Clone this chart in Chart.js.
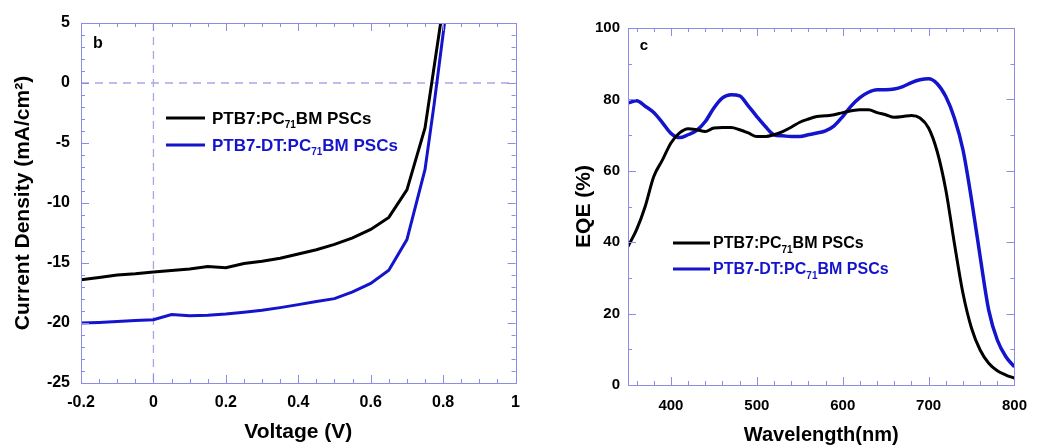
<!DOCTYPE html>
<html>
<head>
<meta charset="utf-8">
<script src="https://cdn.jsdelivr.net/npm/chart.js@4.4.1/dist/chart.umd.min.js"></script>
<style>
  body { margin: 0; background: #fff; }
  #wrap { position: relative; width: 1039px; height: 447px; }
  #jv { position: absolute; left: 0; top: 0; }
  #eqe { position: absolute; left: 530px; top: 0; }
</style>
</head>
<body>
<div id="wrap">
  <canvas id="jv" width="530" height="447"></canvas>
  <canvas id="eqe" width="509" height="447"></canvas>
</div>
<script>
// series names (the "71" is drawn as subscript)
const nameRef = 'PTB7:PC71BM PSCs'
const nameDT = 'PTB7-DT:PC71BM PSCs'

// panel b : J-V curves
const voltRef = [-0.2, -0.15, -0.1, -0.05, 0, 0.05, 0.1, 0.15, 0.2, 0.25, 0.3, 0.35, 0.4, 0.45, 0.5, 0.55, 0.6, 0.65, 0.7, 0.75, 0.8]
const jRef = [-16.4, -16.2, -16.0, -15.9, -15.75, -15.62, -15.5, -15.3, -15.4, -15.05, -14.86, -14.6, -14.25, -13.9, -13.45, -12.9, -12.2, -11.2, -8.9, -3.75, 6.4]
const voltDT = [-0.2, -0.15, -0.1, -0.05, 0, 0.05, 0.1, 0.15, 0.2, 0.25, 0.3, 0.35, 0.4, 0.45, 0.5, 0.55, 0.6, 0.65, 0.7, 0.75, 0.775, 0.8, 0.825]
const jDT = [-20.0, -19.95, -19.88, -19.8, -19.72, -19.3, -19.4, -19.35, -19.25, -19.1, -18.94, -18.72, -18.47, -18.2, -17.97, -17.4, -16.7, -15.6, -13.05, -7.2, -1.8, 4.1, 10]
const voltTicks = [-0.2, 0, 0.2, 0.4, 0.6, 0.8, 1]
const jTicks = [-25, -20, -15, -10, -5, 0, 5]

// panel c : EQE spectra
const wavelength = [350, 360, 370, 380, 390, 400, 410, 420, 430, 440, 450, 460, 470, 480, 490, 500, 510, 520, 530, 540, 550, 560, 570, 580, 590, 600, 610, 620, 630, 640, 650, 660, 670, 680, 690, 700, 710, 720, 730, 740, 750, 760, 770, 780, 790, 800]
const eqeRef = [38.8, 43.5, 50, 58.4, 63, 67.8, 70.6, 71.8, 71.5, 71, 72, 72.1, 72.1, 71.5, 70.6, 69.6, 69.6, 70.1, 71, 72.2, 73.6, 74.5, 75.2, 75.4, 75.7, 76.3, 76.8, 77.1, 77.1, 76.3, 75.7, 75, 75.2, 75.5, 74.8, 72, 65.4, 54.7, 39.7, 25.7, 15.9, 9.8, 6.1, 4, 2.8, 1.9]
const eqeDT = [79, 79.6, 78.1, 76.3, 73.5, 70.5, 69.3, 70.1, 71.3, 73.8, 77.6, 80.4, 81.3, 81, 78.2, 75.2, 72.4, 70.1, 69.8, 69.6, 69.6, 70.1, 70.6, 71.2, 72.6, 75.2, 78.2, 80.5, 82, 82.7, 82.7, 82.9, 83.6, 84.7, 85.5, 85.8, 84.4, 80.8, 74.8, 65.9, 51.9, 36, 21, 12.6, 7.9, 5.1]
const waveTicks = [400, 500, 600, 700, 800]
const eqeTicks = [0, 20, 40, 60, 80, 100]

const FONT = "'Liberation Sans', Arial, sans-serif"
const LAV = '#8c8ce6'
const BLUE = '#1414cc'

function pts(xs, ys) {
  return xs.map((x, i) => ({x: x, y: ys[i]}))
}

// frame, inward ticks, dashed zero lines, legend with subscript, panel letter
const framePlugin = {
  id: 'frame',
  beforeDatasetsDraw(chart, args, o) {
    if (!o.zeroLines) return
    const {ctx, chartArea: a, scales: {x, y}} = chart
    const x0 = x.getPixelForValue(0), y0 = y.getPixelForValue(0)
    ctx.save()
    ctx.strokeStyle = '#a6a6ea'
    ctx.lineWidth = 1.3
    ctx.setLineDash([8, 6])
    ctx.beginPath()
    ctx.moveTo(x0, a.top); ctx.lineTo(x0, a.bottom)
    ctx.moveTo(a.left, y0); ctx.lineTo(a.right, y0)
    ctx.stroke()
    ctx.restore()
  },
  afterDatasetsDraw(chart, args, o) {
    const {ctx, chartArea: a, scales: {x, y}} = chart
    ctx.save()
    ctx.strokeStyle = LAV
    ctx.lineWidth = 1
    ctx.beginPath()
    // x ticks top and bottom
    let start = Math.ceil(x.min / o.xMinor - 1e-6)
    for (let i = start; i * o.xMinor <= x.max + 1e-9; i++) {
      const v = i * o.xMinor
      const major = Math.abs(v / o.xMajor - Math.round(v / o.xMajor)) < 1e-6
      const len = major ? 8 : 4
      const px = Math.round(x.getPixelForValue(v)) + 0.5
      ctx.moveTo(px, a.bottom); ctx.lineTo(px, a.bottom - len)
      ctx.moveTo(px, a.top); ctx.lineTo(px, a.top + len)
    }
    // y ticks left and right
    start = Math.ceil(y.min / o.yMinor - 1e-6)
    for (let i = start; i * o.yMinor <= y.max + 1e-9; i++) {
      const v = i * o.yMinor
      const major = Math.abs(v / o.yMajor - Math.round(v / o.yMajor)) < 1e-6
      const len = major ? 8 : 4
      const py = Math.round(y.getPixelForValue(v)) + 0.5
      ctx.moveTo(a.left, py); ctx.lineTo(a.left + len, py)
      ctx.moveTo(a.right, py); ctx.lineTo(a.right - len, py)
    }
    ctx.stroke()
    ctx.strokeRect(Math.round(a.left) + 0.5, Math.round(a.top) + 0.5, Math.round(a.right - a.left), Math.round(a.bottom - a.top))
    ctx.restore()

    // panel letter
    ctx.save()
    ctx.fillStyle = '#000'
    ctx.font = 'bold ' + o.letterSize + 'px ' + FONT
    ctx.textAlign = 'center'
    ctx.textBaseline = 'middle'
    ctx.fillText(o.letter, o.letterX, o.letterY)
    ctx.restore()

    // legend
    const lg = o.legend
    chart.data.datasets.forEach((ds, i) => {
      const yy = lg.y + i * lg.rowH
      ctx.save()
      ctx.strokeStyle = ds.borderColor
      ctx.lineWidth = 3
      ctx.beginPath()
      ctx.moveTo(lg.x, yy); ctx.lineTo(lg.x + lg.lineLen, yy)
      ctx.stroke()
      const parts = ds.label.split('71')
      ctx.fillStyle = ds.borderColor
      ctx.textBaseline = 'middle'
      let tx = lg.x + lg.lineLen + lg.gap
      ctx.font = 'bold ' + lg.size + 'px ' + FONT
      ctx.fillText(parts[0], tx, yy + 1)
      tx += ctx.measureText(parts[0]).width
      ctx.font = 'bold ' + lg.subSize + 'px ' + FONT
      ctx.fillText('71', tx, yy + lg.subDrop)
      tx += ctx.measureText('71').width
      ctx.font = 'bold ' + lg.size + 'px ' + FONT
      ctx.fillText(parts[1], tx, yy + 1)
      ctx.restore()
    })
  }
}

function axis(min, max, tickList, fitSize, isX, tickFont, tickPad, title, titleSize, titlePad) {
  return {
    type: 'linear',
    min: min,
    max: max,
    afterBuildTicks: s => { s.ticks = tickList.map(v => ({value: v})) },
    afterFit: s => { if (isX) s.height = fitSize; else s.width = fitSize },
    grid: {display: false, drawTicks: false},
    border: {display: false},
    ticks: {
      color: '#000',
      padding: tickPad,
      autoSkip: false,
      maxRotation: 0,
      font: {family: FONT, size: tickFont, weight: 'bold'},
      callback: v => String(v)
    },
    title: {
      display: true,
      text: title,
      color: '#000',
      font: {family: FONT, size: titleSize, weight: 'bold'},
      padding: titlePad
    }
  }
}

new Chart(document.getElementById('jv'), {
  type: 'line',
  data: {
    datasets: [
      {label: nameRef, data: pts(voltRef, jRef), borderColor: '#000', borderWidth: 3, pointRadius: 0, tension: 0, clip: 0},
      {label: nameDT, data: pts(voltDT, jDT), borderColor: BLUE, borderWidth: 3, pointRadius: 0, tension: 0, clip: 0}
    ]
  },
  options: {
    responsive: false,
    animation: false,
    layout: {padding: {top: 23, right: 14, left: 0, bottom: 0}},
    plugins: {
      legend: {display: false},
      tooltip: {enabled: false},
      frame: {
        zeroLines: true, xMajor: 0.2, xMinor: 0.05, yMajor: 5, yMinor: 1,
        letter: 'b', letterX: 98, letterY: 44, letterSize: 16,
        legend: {x: 166, y: 118, rowH: 27, lineLen: 39, gap: 7, size: 17, subSize: 10, subDrop: 7}
      }
    },
    scales: {
      x: axis(-0.2, 1, voltTicks, 64, true, 16, 10, 'Voltage (V)', 21, {bottom: 2}),
      y: axis(-25, 5, jTicks, 81, false, 16, 11, 'Current Density (mA/cm²)', 21, {top: 11})
    }
  },
  plugins: [framePlugin]
})

new Chart(document.getElementById('eqe'), {
  type: 'line',
  data: {
    datasets: [
      {label: nameRef, data: pts(wavelength, eqeRef), borderColor: '#000', borderWidth: 3, pointRadius: 0, cubicInterpolationMode: 'monotone', clip: 0},
      {label: nameDT, data: pts(wavelength, eqeDT), borderColor: BLUE, borderWidth: 3.5, pointRadius: 0, cubicInterpolationMode: 'monotone', clip: 0}
    ]
  },
  options: {
    responsive: false,
    animation: false,
    layout: {padding: {top: 28, right: 13, left: 0, bottom: 0}},
    plugins: {
      legend: {display: false},
      tooltip: {enabled: false},
      frame: {
        zeroLines: false, xMajor: 100, xMinor: 20, yMajor: 20, yMinor: 10,
        letter: 'c', letterX: 114, letterY: 46, letterSize: 15,
        legend: {x: 143, y: 243, rowH: 26, lineLen: 37, gap: 3, size: 16, subSize: 10, subDrop: 7}
      }
    },
    scales: {
      x: axis(350, 800, waveTicks, 62, true, 15, 12, 'Wavelength(nm)', 20, {bottom: 0}),
      y: axis(0, 100, eqeTicks, 98, false, 15, 8, 'EQE (%)', 21, {top: 42})
    }
  },
  plugins: [framePlugin]
})
</script>
</body>
</html>
